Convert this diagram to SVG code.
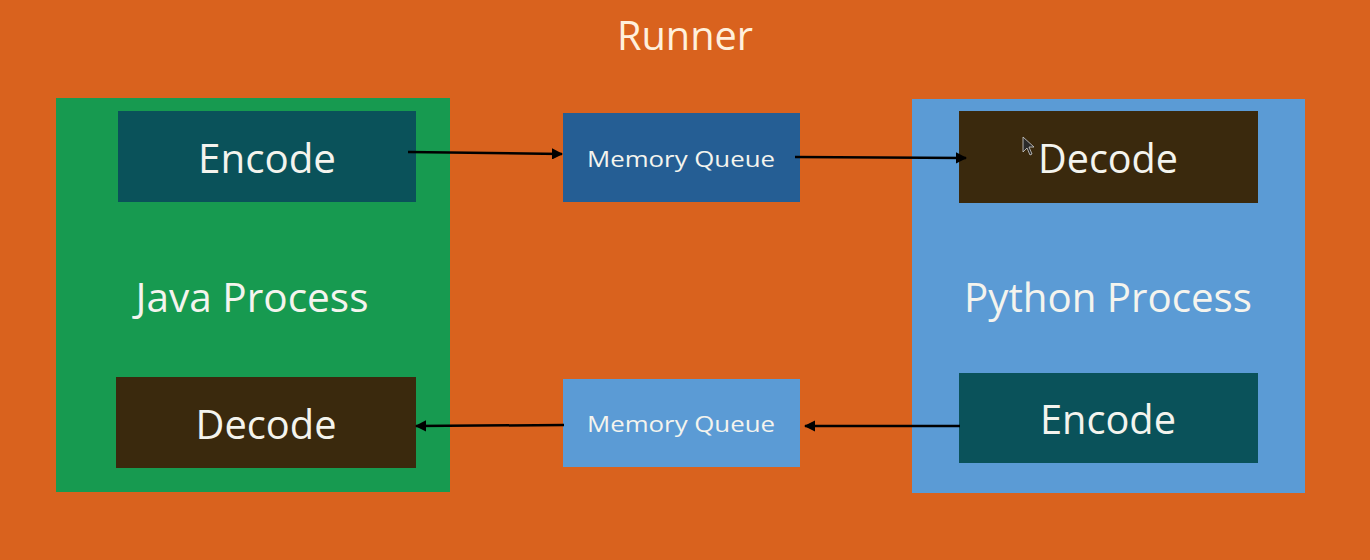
<svg xmlns="http://www.w3.org/2000/svg" width="1370" height="560" viewBox="0 0 1370 560">
<style>
.t{font-family:"Open Sans","Liberation Sans",sans-serif;fill:#F4F4EE;text-anchor:middle}
.big{font-size:40px}
.mq{font-size:22px}
.conn{stroke:#000;stroke-width:2.5;fill:none;marker-end:url(#ah)}
</style>
<defs>
<marker id="ah" viewBox="0 0 10 10" refX="9" refY="5" markerWidth="4.5" markerHeight="4.5" orient="auto" markerUnits="strokeWidth">
<path d="M0,0 L10,5 L0,10 z" fill="#000"/>
</marker>
</defs>
<rect id="runner" x="0" y="0" width="1370" height="560" fill="#D9621E"/>
<text class="t big" x="685" y="50" style="fill:#FFF0DC" textLength="136" lengthAdjust="spacingAndGlyphs">Runner</text>

<g id="java">
<rect x="56" y="98" width="394" height="394" fill="#179A50"/>
<text class="t big" x="252" y="312" textLength="233" lengthAdjust="spacingAndGlyphs">Java Process</text>
</g>
<g id="python">
<rect x="912" y="99" width="393" height="394" fill="#5B9BD5"/>
<text class="t big" x="1108" y="312" textLength="288" lengthAdjust="spacingAndGlyphs">Python Process</text>
</g>
<g id="java-encode">
<rect x="118" y="111" width="298" height="91" fill="#0A525A"/>
<text class="t big" x="267" y="173" textLength="138" lengthAdjust="spacingAndGlyphs">Encode</text>
</g>
<g id="java-decode">
<rect x="116" y="377" width="300" height="91" fill="#3A290D"/>
<text class="t big" x="266" y="439" textLength="141" lengthAdjust="spacingAndGlyphs">Decode</text>
</g>
<g id="python-decode">
<rect x="959" y="111" width="299" height="92" fill="#3A290D"/>
<text class="t big" x="1108" y="173" textLength="140" lengthAdjust="spacingAndGlyphs">Decode</text>
<path d="M1023,137 L1023,152 L1027,148 L1030,155 L1032,154 L1029,147 L1034,147 Z" fill="#2A2A2A" stroke="#CFCFCF" stroke-width="0.8"/>
</g>
<g id="python-encode">
<rect x="959" y="373" width="299" height="90" fill="#0A525A"/>
<text class="t big" x="1108" y="434" textLength="136" lengthAdjust="spacingAndGlyphs">Encode</text>
</g>
<g id="queue-top">
<rect x="563" y="113" width="237" height="89" fill="#255E94"/>
<text class="t mq" x="681" y="167" textLength="188" lengthAdjust="spacingAndGlyphs">Memory Queue</text>
</g>
<g id="queue-bottom">
<rect x="563" y="379" width="237" height="88" fill="#5B9BD5"/>
<text class="t mq" x="681" y="432" textLength="188" lengthAdjust="spacingAndGlyphs">Memory Queue</text>
</g>
<g id="connectors">
<line class="conn" x1="408" y1="152" x2="562" y2="154"/>
<line class="conn" x1="795" y1="157" x2="966" y2="158"/>
<line class="conn" x1="960" y1="426" x2="805" y2="426"/>
<line class="conn" x1="564" y1="425" x2="416" y2="426"/>
</g>
</svg>
